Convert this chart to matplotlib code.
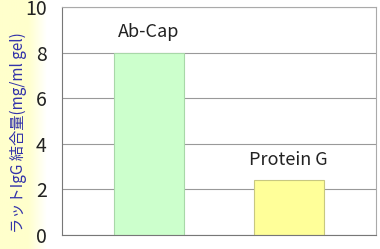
import numpy as np
import matplotlib.pyplot as plt

plt.rcParams['font.family'] = ['Noto Sans CJK JP', 'DejaVu Sans']

labels = ["Ab-Cap", "Protein G"]
values = [8.0, 2.4]
colors = ["#ccffcc", "#ffff99"]
edges = ["#a8d8a8", "#c8c880"]
yticks = [0, 2, 4, 6, 8, 10]

fig = plt.figure(figsize=(3.8, 2.49), dpi=100)

# pale yellow band behind the y label
band = fig.add_axes([0, 0, 47 / 380, 1], zorder=-1)
grad = np.ones((2, 64, 3))
fade = np.clip((np.linspace(0, 1, 64) - 0.6) / 0.4, 0, 1)
grad[:, :, 2] = 0.80 + 0.20 * fade
band.imshow(grad, aspect='auto', extent=(0, 1, 0, 1))
band.axis('off')

ax = fig.add_axes([62 / 380, 1 - 235 / 249, 314 / 380, 228 / 249])
x = np.arange(len(labels))
ax.bar(x, values, width=0.5, color=colors, edgecolor=edges, linewidth=0.8, zorder=2)
for xi, v, lab in zip(x, values, labels):
    ax.text(xi, v + 0.5, lab, ha='center', va='bottom', fontsize=13, color='#222222')

ax.set_xlim(-0.62, -0.62 + 314 / 140)
ax.set_ylim(0, 10)
ax.set_yticks(yticks)
ax.set_yticklabels([str(t) for t in yticks], fontsize=14, color='#222222')
ax.set_xticks([])
ax.yaxis.grid(True, color='#999999', linewidth=0.8, zorder=0)
ax.tick_params(axis='y', length=0, pad=11)
for s in ['left', 'bottom']:
    ax.spines[s].set_color('#777777')
for s in ['top', 'right']:
    ax.spines[s].set_color('#aaaaaa')

fig.text(18 / 380, 1 - 133 / 249, "ラットIgG 結合量(mg/ml gel)", rotation=90,
         ha='center', va='center', fontsize=11, color='#3333aa')

fig.savefig("out.png", dpi=100)
